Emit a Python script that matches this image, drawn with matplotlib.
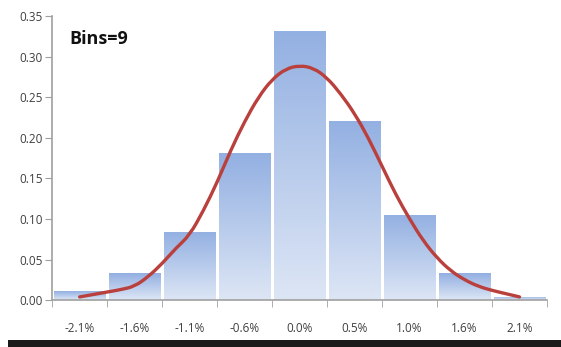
import numpy as np
import matplotlib.pyplot as plt
from matplotlib.colors import LinearSegmentedColormap
from matplotlib.patches import Rectangle, PathPatch
from matplotlib.path import Path

# histogram bins
labels = ["-2.1%", "-1.6%", "-1.1%", "-0.6%", "0.0%", "0.5%", "1.0%", "1.6%", "2.1%"]
freq = [0.011, 0.033, 0.084, 0.181, 0.332, 0.221, 0.105, 0.033, 0.004]

# density curve (x in bin index units)
curve_x = [0.0, 0.25, 0.5, 0.75, 1.0, 1.25, 1.5, 1.75, 2.0, 2.25, 2.5, 2.75, 3.0,
           3.25, 3.5, 3.75, 4.0, 4.25, 4.5, 4.75, 5.0, 5.25, 5.5, 5.75, 6.0,
           6.25, 6.5, 6.75, 7.0, 7.25, 7.5, 7.75, 8.0]
curve_y = [0.004, 0.007, 0.010, 0.013, 0.017, 0.029, 0.045, 0.064, 0.080, 0.110,
           0.145, 0.185, 0.220, 0.250, 0.272, 0.285, 0.289, 0.286, 0.274, 0.254,
           0.230, 0.200, 0.165, 0.130, 0.100, 0.073, 0.052, 0.036, 0.025, 0.017,
           0.012, 0.008, 0.004]

plt.rcParams['font.family'] = ['Open Sans', 'DejaVu Sans']

fig = plt.figure(figsize=(5.61, 3.47), dpi=100)
ax = fig.add_axes([0.093, 0.135, 0.882, 0.819])

cmap = LinearSegmentedColormap.from_list("bar", ["#dde6f5", "#93b0e2"])
grad = np.linspace(0, 1, 256).reshape(-1, 1)
w = 0.945
for i, v in enumerate(freq):
    im = ax.imshow(grad, cmap=cmap, origin="lower", aspect="auto",
                   extent=[i - w / 2, i + w / 2, 0, v], zorder=1)
    r = Rectangle((i - w / 2, 0), w, v, facecolor="none", edgecolor="none")
    ax.add_patch(r)
    im.set_clip_path(r)

# smooth line: the read points act as quadratic bezier control points
pts = np.column_stack([curve_x, curve_y])
verts = [pts[0]]
codes = [Path.MOVETO]
for k in range(1, len(pts) - 1):
    mid = (pts[k] + pts[k + 1]) / 2 if k < len(pts) - 2 else pts[k + 1]
    verts += [pts[k], mid]
    codes += [Path.CURVE3, Path.CURVE3]
ax.add_patch(PathPatch(Path(verts, codes), facecolor="none", edgecolor="#b9403c",
                       lw=2.4, capstyle="round", zorder=3))

ax.set_xlim(-0.5, 8.5)
ax.set_ylim(0, 0.35)
ax.set_yticks(np.arange(0, 0.351, 0.05))
ax.set_yticklabels(["%.2f" % t for t in np.arange(0, 0.351, 0.05)])
ax.set_xticks(range(len(labels)))
ax.set_xticklabels(labels)
ax.set_xticks(np.arange(-0.5, 8.6, 1), minor=True)
ax.tick_params(axis="x", which="major", length=0, pad=16, labelsize=8.5, labelcolor="#404040")
ax.tick_params(axis="x", which="minor", length=5, color="#a0a0a0", direction="out")
ax.tick_params(axis="y", length=5, color="#a0a0a0", labelsize=8.5, labelcolor="#404040", pad=2)
for s in ["top", "right"]:
    ax.spines[s].set_visible(False)
for s in ["left", "bottom"]:
    ax.spines[s].set_color("#a0a0a0")
    ax.spines[s].set_linewidth(1.2)

ax.text(0.035, 0.95, "Bins=9", transform=ax.transAxes, fontsize=13,
        fontweight="bold", color="#111111", va="top", ha="left")

# dark shadow line at the bottom of the picture
fig.patches.append(Rectangle((0.015, 0.0), 0.985, 0.02, transform=fig.transFigure,
                             facecolor="#1a1a1a", edgecolor="none"))

fig.savefig("out.png", dpi=100)
